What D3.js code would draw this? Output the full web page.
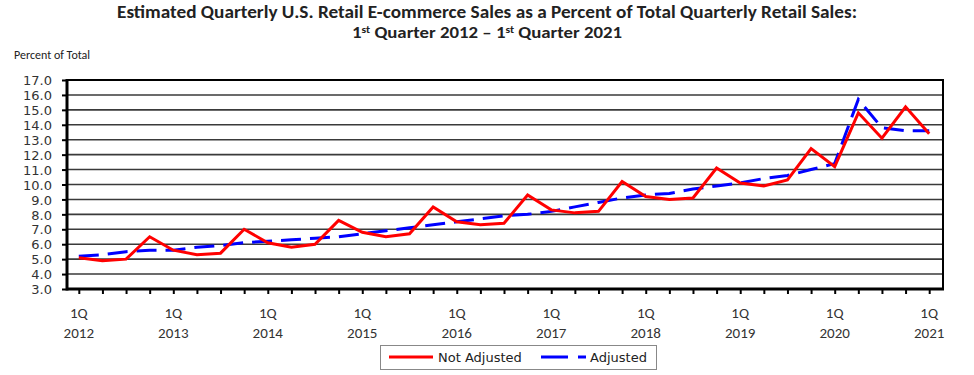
<html>
<head>
<style>
    body { margin: 0; background: #fff; }
    text { fill: #222; }
</style>
</head>
<body>
<svg id="chart" width="974" height="375"></svg>
<script src="https://cdn.jsdelivr.net/npm/d3@7"></script>
<script>
    // quarters from 1Q 2012 to 1Q 2021
    let years = [2012, 2013, 2014, 2015, 2016, 2017, 2018, 2019, 2020, 2021]
    let quarters = []
    years.forEach(y => [1, 2, 3, 4].forEach(q => { if (y < 2021 || q === 1) quarters.push(q + "Q " + y) }))

    let notAdjusted = [
        5.1, 4.9, 5.0, 6.5,
        5.6, 5.3, 5.4, 7.0,
        6.1, 5.8, 6.0, 7.6,
        6.8, 6.5, 6.7, 8.5,
        7.5, 7.3, 7.4, 9.3,
        8.3, 8.1, 8.2, 10.2,
        9.2, 9.0, 9.1, 11.1,
        10.1, 9.9, 10.3, 12.4,
        11.2, 14.8, 13.1, 15.2,
        13.4
    ]
    let adjusted = [
        5.2, 5.3, 5.5, 5.6,
        5.6, 5.8, 5.9, 6.1,
        6.2, 6.3, 6.4, 6.5,
        6.7, 6.9, 7.1, 7.3,
        7.5, 7.7, 7.9, 8.0,
        8.2, 8.5, 8.8, 9.1,
        9.3, 9.4, 9.7, 9.9,
        10.1, 10.4, 10.6, 11.0,
        11.4, 15.7, 13.8, 13.6,
        13.6
    ]
    let yTicks = d3.range(3, 17.01, 1)

    let svg = d3.select("#chart")
    let pLeft = 67, pRight = 943, pTop = 80, pBottom = 289

    let x = d3.scalePoint().domain(quarters).range([pLeft, pRight - 2]).padding(0.5)
    let y = d3.scaleLinear().domain([3, 17]).range([pBottom, pTop])

    // titles
    let titleFont = "Carlito, 'Liberation Sans Narrow', 'Open Sans', sans-serif"
    svg.append("text")
        .attr("x", 487).attr("y", 18)
        .attr("text-anchor", "middle")
        .attr("textLength", 740).attr("lengthAdjust", "spacingAndGlyphs")
        .style("font-family", titleFont).style("font-weight", "bold").style("font-size", "17px")
        .text("Estimated Quarterly U.S. Retail E-commerce Sales as a Percent of Total Quarterly Retail Sales:")

    let sub = svg.append("text")
        .attr("x", 487).attr("y", 38)
        .attr("text-anchor", "middle")
        .attr("textLength", 270).attr("lengthAdjust", "spacingAndGlyphs")
        .style("font-family", titleFont).style("font-weight", "bold").style("font-size", "16px")
    sub.append("tspan").text("1")
    sub.append("tspan").attr("dy", -5).style("font-size", "10px").text("st")
    sub.append("tspan").attr("dy", 5).text(" Quarter 2012 \u2013 1")
    sub.append("tspan").attr("dy", -5).style("font-size", "10px").text("st")
    sub.append("tspan").attr("dy", 5).text(" Quarter 2021")

    svg.append("text")
        .attr("x", 14).attr("y", 59)
        .style("font-family", titleFont).style("font-size", "12px")
        .text("Percent of Total")

    // grid lines
    svg.append("g").selectAll("line")
        .data(yTicks.filter(d => d > 3 && d < 17))
        .join("line")
        .attr("x1", pLeft).attr("x2", pRight)
        .attr("y1", d => y(d)).attr("y2", d => y(d))
        .attr("stroke", "#3a3a3a").attr("stroke-width", 1.6)

    // y axis
    let yAxis = d3.axisLeft(y).tickValues(yTicks).tickSize(5).tickFormat(d3.format(".1f"))
    let yg = svg.append("g").attr("transform", `translate(${pLeft},0)`).call(yAxis)
    yg.select(".domain").remove()
    yg.selectAll(".tick line").attr("stroke", "#000").attr("stroke-width", 2)
    yg.selectAll(".tick text")
        .attr("x", -15).attr("dy", "0.36em")
        .style("font-family", "'DejaVu Sans', Verdana, sans-serif").style("font-size", "13px")
        .style("fill", "#333")

    // x axis
    let xAxis = d3.axisBottom(x).tickSize(5).tickFormat("")
    let xg = svg.append("g").attr("transform", `translate(0,${pBottom})`).call(xAxis)
    xg.select(".domain").remove()
    xg.selectAll(".tick line").attr("stroke", "#000").attr("stroke-width", 2)

    let labels = svg.append("g").selectAll("text")
        .data(quarters.filter(q => q.startsWith("1Q")))
        .join("text")
        .attr("x", d => x(d))
        .attr("y", 318)
        .attr("text-anchor", "middle")
        .style("font-family", titleFont).style("font-size", "15px").style("fill", "#333")
    labels.append("tspan").attr("x", d => x(d)).text("1Q")
    labels.append("tspan").attr("x", d => x(d)).attr("dy", 20).text(d => d.split(" ")[1])

    // frame
    svg.append("line").attr("x1", pLeft).attr("x2", pRight).attr("y1", pTop).attr("y2", pTop)
        .attr("stroke", "#000").attr("stroke-width", 2)
    svg.append("line").attr("x1", pRight).attr("x2", pRight).attr("y1", pTop - 1).attr("y2", pBottom)
        .attr("stroke", "#000").attr("stroke-width", 2)
    svg.append("line").attr("x1", pLeft).attr("x2", pLeft).attr("y1", pTop - 1).attr("y2", pBottom + 1.5)
        .attr("stroke", "#000").attr("stroke-width", 3)
    svg.append("line").attr("x1", pLeft).attr("x2", pRight + 1).attr("y1", pBottom).attr("y2", pBottom)
        .attr("stroke", "#000").attr("stroke-width", 3)

    // series
    let line = d3.line().x((d, i) => x(quarters[i])).y(d => y(d))
    svg.append("path").datum(adjusted)
        .attr("d", line)
        .attr("fill", "none").attr("stroke", "#0000ff").attr("stroke-width", 3)
        .attr("stroke-dasharray", "20,9")
    svg.append("path").datum(notAdjusted)
        .attr("d", line)
        .attr("fill", "none").attr("stroke", "#ff0000").attr("stroke-width", 3)
        .attr("stroke-linejoin", "miter")

    // legend
    let legend = svg.append("g")
    legend.append("rect")
        .attr("x", 380.5).attr("y", 345.5).attr("width", 276).attr("height", 24)
        .attr("fill", "#fff").attr("stroke", "#888").attr("stroke-width", 1)
    legend.append("line").attr("x1", 389).attr("x2", 433).attr("y1", 357).attr("y2", 357)
        .attr("stroke", "#ff0000").attr("stroke-width", 3)
    legend.append("text").attr("x", 438).attr("y", 362)
        .style("font-family", "'DejaVu Sans', Verdana, sans-serif").style("font-size", "13px")
        .text("Not Adjusted")
    legend.append("line").attr("x1", 541).attr("x2", 586).attr("y1", 357).attr("y2", 357)
        .attr("stroke", "#0000ff").attr("stroke-width", 3).attr("stroke-dasharray", "27,10")
    legend.append("text").attr("x", 590).attr("y", 362)
        .style("font-family", "'DejaVu Sans', Verdana, sans-serif").style("font-size", "13px")
        .text("Adjusted")
</script>
</body>
</html>
